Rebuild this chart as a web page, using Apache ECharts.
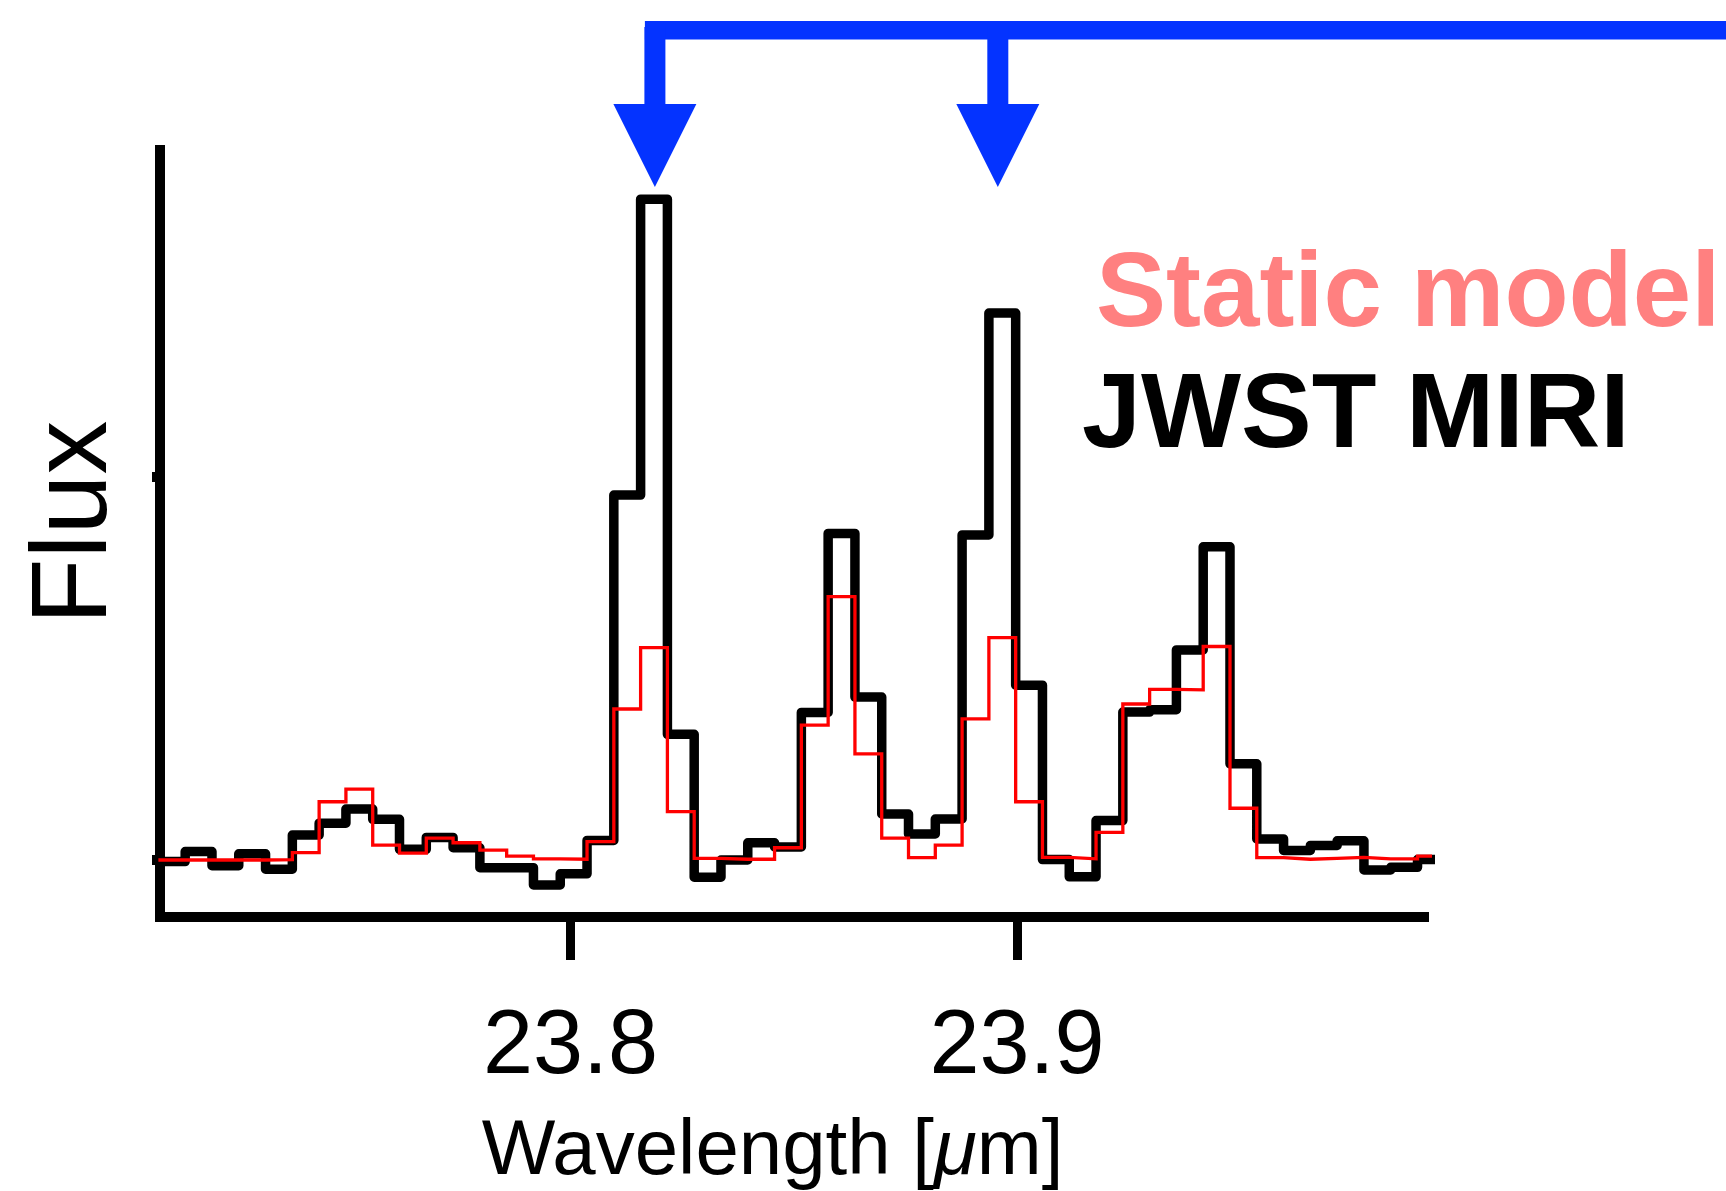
<!DOCTYPE html>
<html><head><meta charset="utf-8">
<script src="https://cdn.jsdelivr.net/npm/echarts@6/dist/echarts.min.js"></script>
<style>html,body{margin:0;padding:0;background:#fff;} #c{width:1726px;height:1191px;}</style>
</head><body><div id="c"></div>
<script>
// Bin edges in wavelength (micron), one more than the number of bins
const binEdges = [23.7077, 23.7137, 23.7197, 23.7257, 23.7317, 23.7377, 23.7437, 23.7497, 23.7557, 23.7617,
  23.7677, 23.7737, 23.7797, 23.7857, 23.7917, 23.7977, 23.8037, 23.8097, 23.8157, 23.8217,
  23.8277, 23.8337, 23.8397, 23.8457, 23.8517, 23.8577, 23.8637, 23.8697, 23.8757, 23.8817,
  23.8877, 23.8937, 23.8997, 23.9057, 23.9117, 23.9177, 23.9237, 23.9297, 23.9357, 23.9417,
  23.9477, 23.9537, 23.9597, 23.9657, 23.9717, 23.9777, 23.9837, 23.9897, 23.9957];
// JWST MIRI observed flux (normalised)
const miriFlux = [0.996, 1.022, 0.985, 1.016, 0.976, 1.065, 1.096, 1.133, 1.106, 1.028,
  1.059, 1.032, 0.980, 0.980, 0.935, 0.964, 1.051, 1.952, 2.724, 1.328,
  0.955, 1.000, 1.045, 1.034, 1.385, 1.852, 1.425, 1.120, 1.068, 1.107,
  1.848, 2.427, 1.456, 1.001, 0.956, 1.103, 1.386, 1.392, 1.548, 1.817,
  1.251, 1.055, 1.025, 1.038, 1.050, 0.974, 0.981, 1.001];
// Static model flux (normalised)
const modelFlux = [1.000, 1.000, 1.000, 1.000, 1.001, 1.019, 1.152, 1.185, 1.039, 1.018,
  1.057, 1.045, 1.026, 1.010, 1.003, 1.002, 1.048, 1.394, 1.554, 1.126,
  1.004, 1.002, 1.002, 1.032, 1.352, 1.687, 1.277, 1.057, 1.006, 1.039,
  1.368, 1.580, 1.152, 1.007, 1.003, 1.072, 1.407, 1.445, 1.444, 1.557,
  1.135, 1.006, 1.002, 1.004, 1.007, 1.003, 1.003, 1.010];
const xTicks = [23.8, 23.9];
const yTicks = [1, 2];
const arrowWavelengths = [23.8189, 23.8957];

function stairs(edges, vals) {
  const d = vals.map((v, i) => [edges[i], v]);
  d.push([edges[vals.length], vals[vals.length - 1]]);
  return d;
}

const FONT = 'Liberation Sans';
const chart = echarts.init(document.getElementById('c'), null, {renderer: 'canvas'});

const option = {
  animation: false,
  backgroundColor: '#fff',
  grid: {left: 160, right: 297, top: 150, bottom: 274, containLabel: false, outerBoundsMode: 'none'},
  xAxis: {
    type: 'value', min: 23.70806, max: 23.99227,
    axisLine: {onZero: false, lineStyle: {color: '#000', width: 10, cap: 'butt'}},
    axisTick: {show: true, customValues: xTicks, length: 43, lineStyle: {color: '#000', width: 9}},
    axisLabel: {show: true, customValues: xTicks, margin: 86, color: '#000', fontSize: 90, fontFamily: FONT,
      formatter: v => Number(v).toFixed(1)},
    splitLine: {show: false},
    name: '{n|Wavelength [}{mu|μ}{n|m]}',
    nameLocation: 'middle', nameGap: 196,
    nameTextStyle: {color: '#000', padding: [0, 44, 0, 0],
      rich: {n: {fontSize: 78, fontFamily: FONT, color: '#000'},
             mu: {fontSize: 78, fontFamily: FONT, fontStyle: 'italic', color: '#000'}}}
  },
  yAxis: {
    type: 'value', min: 0.8513, max: 2.8523,
    axisLine: {onZero: false, lineStyle: {color: '#000', width: 10, cap: 'square'}},
    axisTick: {show: true, customValues: yTicks, length: 8, lineStyle: {color: '#000', width: 10}},
    axisLabel: {show: false},
    splitLine: {show: false},
    name: 'Flux', nameLocation: 'middle', nameRotate: 90, nameGap: 30,
    nameTextStyle: {color: '#000', fontSize: 108, fontFamily: FONT, padding: [0, 0, 0, 22]}
  },
  series: [
    {name: 'JWST MIRI', type: 'line', step: 'end', symbol: 'none', clip: true,
     data: stairs(binEdges, miriFlux),
     lineStyle: {color: '#000', width: 9.5, join: 'round', cap: 'round'}, z: 2},
    {name: 'Static model', type: 'line', step: 'end', symbol: 'none', clip: true,
     data: stairs(binEdges, modelFlux),
     lineStyle: {color: '#ff0000', width: 3.3, join: 'miter'}, z: 3}
  ],
  graphic: [
    {type: 'text', x: 1096, y: 297.5, z: 10,
     style: {text: 'Static model', fill: '#ff8080', font: 'bold 105px "Liberation Sans"', verticalAlign: 'middle', lineHeight: 105}},
    {type: 'text', x: 1082, y: 418, z: 10,
     style: {text: 'JWST MIRI', fill: '#000', font: 'bold 106px "Liberation Sans"', verticalAlign: 'middle', lineHeight: 106}}
  ]
};
chart.setOption(option);

// Blue line-identification arrows, placed at wavelengths via the x axis scale
const blue = '#0433ff';
const arrows = [];
const px = arrowWavelengths.map(w => chart.convertToPixel({xAxisIndex: 0}, w));
arrows.push({type: 'rect', shape: {x: px[0] - 10, y: 21, width: 1726 - (px[0] - 10), height: 18.5}, style: {fill: blue}, z: 10});
px.forEach(x => {
  arrows.push({type: 'rect', shape: {x: x - 10.5, y: 27, width: 21, height: 79}, style: {fill: blue}, z: 10});
  arrows.push({type: 'polygon', shape: {points: [[x - 41.5, 104], [x + 41.5, 104], [x, 187]]}, style: {fill: blue}, z: 10});
});
chart.setOption({graphic: option.graphic.concat(arrows)});
</script>
</body></html>
